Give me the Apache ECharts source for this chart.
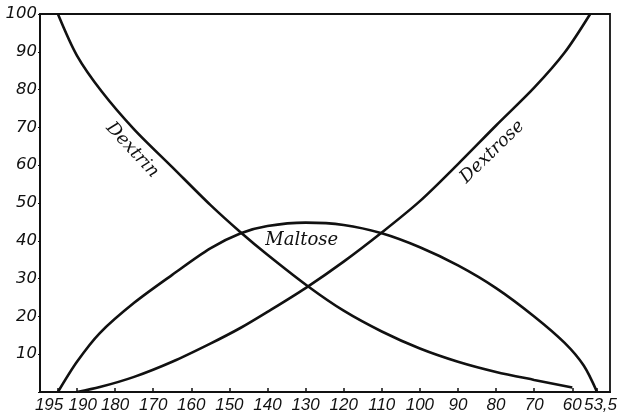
<!DOCTYPE html>
<html>
<head>
<meta charset="utf-8">
<script src="https://cdn.jsdelivr.net/npm/echarts@6/dist/echarts.min.js"></script>
<style>
  html, body { margin: 0; padding: 0; background: #fff; }
  #chart { width: 619px; height: 412px; }
</style>
</head>
<body>
<div id="chart"></div>
<script>
// Tick positions along the x axis (temperature scale, read right-to-left)
const xTicks = [195, 190, 180, 170, 160, 150, 140, 130, 120, 110, 100, 90, 80, 70, 60, 53.5];
// The first tick label sits very close to its neighbour, so it gets its own label row
const xTicksFirst = [195];
const xTicksRest = xTicks.slice(1);

// Percentage curves: [x, percent]
const dextrin = [
  [195, 100], [190, 89], [183.5, 79.5], [175, 69.5], [165, 59.5], [155, 49.5],
  [147, 42.2], [140, 36.3], [129.3, 27.9], [120, 21.5], [110, 16], [100, 11.5],
  [90, 8], [80, 5.3], [70, 3.2], [60, 1.2]
];
const dextrose = [
  [190, 0], [184, 1.3], [175, 4], [165, 8], [155, 12.8], [147, 17], [140, 21.2],
  [130, 27.5], [120, 34.5], [110, 42.2], [100, 50.5], [90, 60.3], [80, 70.5],
  [70, 80.5], [62, 89.8], [55.3, 100]
];
const maltose = [
  [195, 0], [190, 8], [184, 15.6], [175, 23.6], [165, 31], [155, 38], [147, 42],
  [140, 43.9], [130, 44.8], [120, 44.2], [110, 42], [100, 38.3], [90, 33.5],
  [80, 27.5], [70, 20], [62, 13], [57, 7], [53.5, 0]
];

// Curve names and where each name sits along its curve
const curveLabels = [
  { text: 'Dextrin', at: [175.5, 64], rotation: -0.82 },
  { text: 'Dextrose', at: [81, 63.5], rotation: 0.77 },
  { text: 'Maltose', at: [131, 40], rotation: 0 }
];

const ink = '#111';
const tickFont = { fontStyle: 'italic', fontFamily: '"Liberation Sans"', fontSize: 17, color: ink };
const X_MIN = 50.1, X_MAX = 199.7;

const chart = echarts.init(document.getElementById('chart'), null, { renderer: 'canvas' });

function lineSeries(name, data) {
  return {
    name, type: 'line', data,
    smooth: 0.3, symbol: 'none', silent: true,
    lineStyle: { color: ink, width: 2.6 }
  };
}

function tickLabel(v) {
  if (v === 195) return '{l|195}';
  if (v === 190) return '{r|190}';
  if (v === 53.5) return '{e|53,5}';
  return String(v);
}
const tickRich = {
  l: { ...tickFont, width: 46, align: 'left' },
  r: { ...tickFont, width: 40, align: 'right' },
  e: { ...tickFont, width: 40, align: 'right' }
};

chart.setOption({
  animation: false,
  backgroundColor: '#fff',
  grid: {
    left: 40, right: 9, top: 14, bottom: 20,
    containLabel: false, outerBoundsMode: 'none',
    show: true, borderColor: ink, borderWidth: 1.8
  },
  xAxis: [
    {
      type: 'value', position: 'bottom',
      inverse: true, min: X_MIN, max: X_MAX,
      splitLine: { show: false },
      axisLine: { show: true, lineStyle: { color: ink, width: 2 } },
      axisTick: { show: true, inside: true, length: 4, customValues: xTicks, lineStyle: { color: ink, width: 1.5 } },
      axisLabel: {
        customValues: xTicksRest, hideOverlap: false,
        margin: 5, ...tickFont, formatter: tickLabel, rich: tickRich
      }
    },
    {
      type: 'value', position: 'bottom', offset: 0,
      inverse: true, min: X_MIN, max: X_MAX,
      splitLine: { show: false },
      axisLine: { show: false },
      axisTick: { show: false },
      axisLabel: {
        customValues: xTicksFirst, hideOverlap: false,
        margin: 5, ...tickFont, formatter: tickLabel, rich: tickRich
      }
    }
  ],
  yAxis: {
    type: 'value',
    min: 0, max: 100, interval: 10,
    splitLine: { show: false },
    axisLine: { show: true, lineStyle: { color: ink, width: 2 } },
    axisTick: { show: true, length: 2, lineStyle: { color: ink } },
    axisLabel: {
      margin: 3,
      fontStyle: 'italic', fontFamily: '"DejaVu Sans"', fontSize: 16.5, color: ink,
      formatter: v => (v === 0 ? '' : String(v))
    }
  },
  series: [
    lineSeries('Dextrin', dextrin),
    lineSeries('Dextrose', dextrose),
    lineSeries('Maltose', maltose)
  ]
});

// Place the curve names using the chart's own coordinate conversion
chart.setOption({
  graphic: curveLabels.map(l => {
    const p = chart.convertToPixel({ gridIndex: 0 }, l.at);
    return {
      type: 'text',
      x: p[0], y: p[1],
      rotation: l.rotation,
      silent: true,
      style: {
        text: l.text,
        fontStyle: 'italic', fontFamily: '"DejaVu Serif"', fontSize: 18,
        fill: ink, align: 'center', verticalAlign: 'middle'
      }
    };
  })
});
</script>
</body>
</html>
